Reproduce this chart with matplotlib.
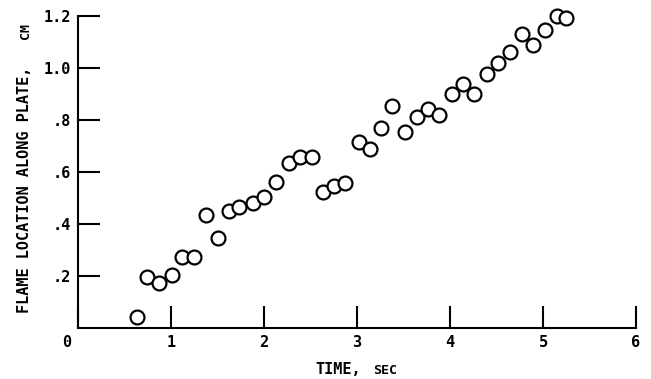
import matplotlib.pyplot as plt
from matplotlib.transforms import ScaledTranslation

# flame position vs time
TIME_S = [0.63, 0.74, 0.87, 1.01, 1.12, 1.25, 1.38, 1.50, 1.62, 1.73, 1.88, 2.00,
          2.13, 2.27, 2.39, 2.52, 2.63, 2.75, 2.87, 3.02, 3.14, 3.26, 3.38, 3.52,
          3.64, 3.76, 3.88, 4.02, 4.14, 4.26, 4.40, 4.52, 4.64, 4.77, 4.89, 5.02,
          5.15, 5.25]
FLAME_CM = [0.041, 0.195, 0.172, 0.203, 0.272, 0.272, 0.433, 0.345, 0.449, 0.464,
            0.480, 0.503, 0.560, 0.633, 0.657, 0.657, 0.522, 0.545, 0.557, 0.714,
            0.687, 0.768, 0.853, 0.753, 0.810, 0.841, 0.818, 0.899, 0.937, 0.899,
            0.976, 1.018, 1.060, 1.130, 1.087, 1.145, 1.199, 1.190]

X_TICKS = [0, 1, 2, 3, 4, 5, 6]
X_LABELS = ["0", "1", "2", "3", "4", "5", "6"]
Y_TICKS = [0.2, 0.4, 0.6, 0.8, 1.0, 1.2]
Y_LABELS = [".2", ".4", ".6", ".8", "1.0", "1.2"]

plt.rcParams["font.family"] = ["DejaVu Sans Mono"]
plt.rcParams["font.weight"] = "bold"

fig = plt.figure(figsize=(6.51, 3.79), dpi=100)
ax = fig.add_axes([0.12, 0.1354, 0.857, 0.8232])

ax.plot(TIME_S, FLAME_CM, linestyle="none", marker="o", ms=10, mfc="white",
        mec="black", mew=1.6, clip_on=False)

ax.set_xlim(0, 6)
ax.set_ylim(0, 1.2)
ax.set_xticks(X_TICKS, X_LABELS)
ax.set_yticks(Y_TICKS, Y_LABELS)
ax.tick_params(direction="in", length=16, width=1.5, labelsize=11)
ax.tick_params(axis="y", pad=5)
ax.tick_params(axis="x", pad=5)
for s in ["top", "right"]:
    ax.spines[s].set_visible(False)
for s in ["left", "bottom"]:
    ax.spines[s].set_linewidth(1.5)

# the origin label sits left of the corner
lab0 = ax.get_xticklabels()[0]
lab0.set_transform(lab0.get_transform() + ScaledTranslation(-11 / 100, 0, fig.dpi_scale_trans))

# axis titles, with the units set smaller on the same baseline
fig.text(0.485, 0.014, "TIME,", fontsize=11, ha="left", va="baseline")
fig.text(0.573, 0.014, "SEC", fontsize=9.5, ha="left", va="baseline")
fig.text(0.045, 0.174, "FLAME LOCATION ALONG PLATE,", fontsize=11, rotation=90,
         rotation_mode="anchor", ha="left", va="baseline")
fig.text(0.045, 0.897, "CM", fontsize=9.5, rotation=90,
         rotation_mode="anchor", ha="left", va="baseline")

fig.savefig("out.png", dpi=100)
